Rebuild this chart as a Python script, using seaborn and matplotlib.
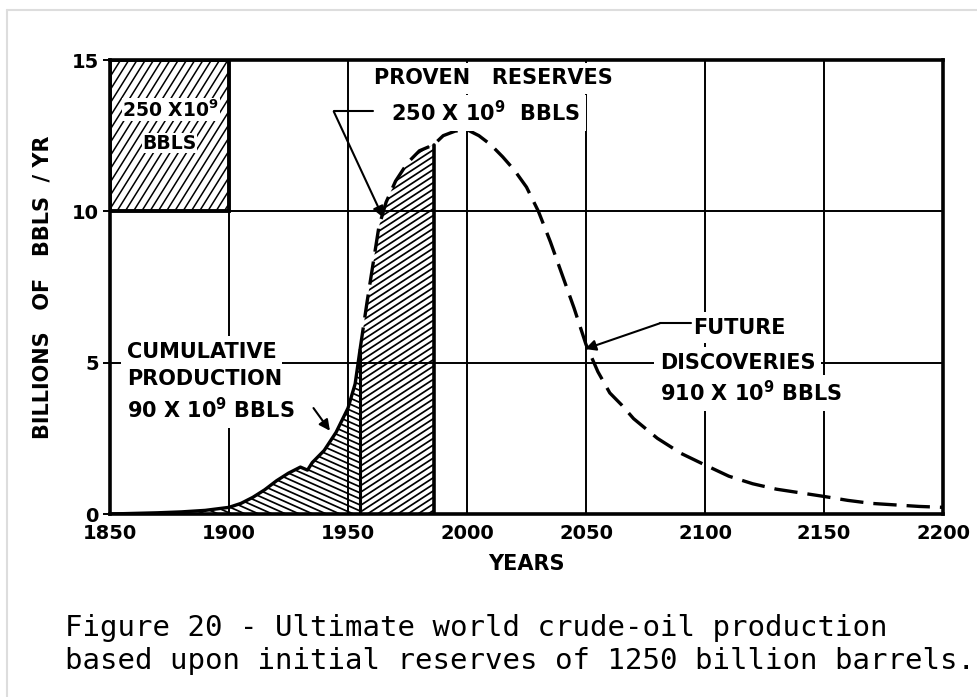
import numpy as np
import pandas as pd
import matplotlib
matplotlib.use("Agg")
import matplotlib.pyplot as plt
import matplotlib.patches as mpatches
from matplotlib.collections import LineCollection
from matplotlib.lines import Line2D
import seaborn as sns

# ---- data (billions of bbls / yr) ----
years = [1850, 1860, 1870, 1880, 1890, 1900, 1905, 1910, 1915, 1920, 1925,
         1930, 1933, 1935, 1940, 1945, 1950, 1953, 1955, 1958, 1960, 1963,
         1966, 1970, 1975, 1980, 1986, 1990, 1995, 2000, 2005, 2010, 2015,
         2020, 2025, 2030, 2035, 2040, 2045, 2050, 2055, 2060, 2065, 2070,
         2080, 2090, 2100, 2110, 2120, 2130, 2140, 2150, 2160, 2170, 2180,
         2190, 2200]
production = [0.0, 0.02, 0.04, 0.07, 0.12, 0.22, 0.35, 0.55, 0.8, 1.1, 1.35,
              1.55, 1.45, 1.7, 2.1, 2.7, 3.5, 4.3, 5.4, 7.0, 8.0, 9.5,
              10.3, 11.0, 11.6, 12.0, 12.2, 12.5, 12.65, 12.7, 12.5, 12.2, 11.8,
              11.35, 10.8, 10.0, 9.0, 7.9, 6.8, 5.6, 4.7, 4.0, 3.6, 3.15,
              2.5, 2.0, 1.62, 1.25, 1.0, 0.82, 0.7, 0.58, 0.45, 0.35, 0.3,
              0.25, 0.22]
cumulative_end = 1955   # end of cumulative production
proven_end = 1986       # end of proven reserves
legend_box = (1850, 1900, 10, 15)  # years / values of the 250 bbls square

x_ticks = [1850, 1900, 1950, 2000, 2050, 2100, 2150, 2200]
y_ticks = [0, 5, 10, 15]

df = pd.DataFrame({"year": years, "prod": production})
yr = df["year"].to_numpy()
pr = df["prod"].to_numpy()

sns.set_theme(style="white")
plt.rcParams.update({
    "font.family": ["DejaVu Sans"],
    "text.color": "black",
    "axes.labelcolor": "black",
    "xtick.color": "black",
    "ytick.color": "black",
    "mathtext.default": "bf",
})

fig = plt.figure(figsize=(9.78, 6.97), dpi=100)
ax = fig.add_axes([110 / 978, 1 - 514 / 697, 833 / 978, 454 / 697])
W_PX, H_PX = 833.0, 454.0


def hatch(ax, patch, angle, spacing, lw=1.3, z=2):
    """draw hatch lines (pixel angle/spacing) clipped to a patch"""
    t = np.tan(np.radians(angle))
    step = spacing / np.cos(np.radians(angle))
    lo = min(0, -t * W_PX) - step
    hi = H_PX + max(0, -t * W_PX) + abs(t) * W_PX + step
    segs = []
    for c in np.arange(lo, hi, step):
        segs.append([(0, c / H_PX), (1, (c + t * W_PX) / H_PX)])
    lc = LineCollection(segs, colors="black", linewidths=lw,
                        transform=ax.transAxes, zorder=z)
    ax.add_collection(lc)
    lc.set_clip_path(patch)


# cumulative production region
m1 = yr <= cumulative_end
poly1 = np.column_stack([np.r_[yr[m1], yr[m1][-1], yr[m1][0]],
                         np.r_[pr[m1], 0, 0]])
p1 = mpatches.Polygon(poly1, closed=True, facecolor="none",
                      edgecolor="none", zorder=1.5)
ax.add_patch(p1)
hatch(ax, p1, -24, 5.5, lw=1.25)

# proven reserves region
m2 = (yr >= cumulative_end) & (yr <= proven_end)
poly2 = np.column_stack([np.r_[yr[m2], yr[m2][-1], yr[m2][0]],
                         np.r_[pr[m2], 0, 0]])
p2 = mpatches.Polygon(poly2, closed=True, facecolor="none",
                      edgecolor="none", zorder=1.5)
ax.add_patch(p2)
hatch(ax, p2, 33, 5.5, lw=1.25)

# boundaries of the regions
ax.plot([cumulative_end, cumulative_end], [0, pr[yr == cumulative_end][0]],
        color="black", lw=2.2, zorder=3)
ax.plot([proven_end, proven_end], [0, pr[yr == proven_end][0]],
        color="black", lw=2.6, zorder=3)

# legend square top-left
bx0, bx1, by0, by1 = legend_box
sq = mpatches.Rectangle((bx0, by0), bx1 - bx0, by1 - by0, facecolor="white",
                        edgecolor="none", zorder=2.5)
ax.add_patch(sq)
hatch(ax, sq, 58, 7, lw=1.1, z=2.7)
ax.add_patch(mpatches.Rectangle((bx0, by0), bx1 - bx0, by1 - by0,
                                facecolor="none", edgecolor="black",
                                lw=2.8, zorder=3))

# production curve
sns.lineplot(data=df[df["year"] <= cumulative_end], x="year", y="prod",
             color="black", lw=2.4, ax=ax, zorder=4)
sns.lineplot(data=df[df["year"] >= cumulative_end], x="year", y="prod",
             color="black", lw=2.4, ax=ax, zorder=4,
             linestyle=(0, (7, 3)))

ax.set_xlim(1850, 2200)
ax.set_ylim(0, 15)
ax.set_xticks(x_ticks)
ax.set_yticks(y_ticks)
ax.grid(True, color="black", lw=1.4)
ax.set_axisbelow(True)
for s in ax.spines.values():
    s.set_color("black")
    s.set_linewidth(2.6)
    s.set_visible(True)
ax.tick_params(axis="x", length=0, pad=7, labelsize=14)
ax.tick_params(axis="y", length=5, width=1.4, color="black", pad=3,
               labelsize=14, left=True)
for lab in ax.get_xticklabels() + ax.get_yticklabels():
    lab.set_fontweight("bold")

ax.set_xlabel("YEARS", fontsize=15, fontweight="bold", labelpad=8)
ax.set_ylabel("BILLIONS   OF   BBLS  / YR", fontsize=15, fontweight="bold",
              labelpad=14)

wbox = dict(facecolor="white", edgecolor="none", pad=4)
tkw = dict(fontsize=15, fontweight="bold", zorder=6, bbox=wbox)
sup9 = r"10$^{9}$"

boxkw = dict(fontsize=13.5, fontweight="bold", zorder=6,
             bbox=dict(facecolor="white", edgecolor="none", pad=0.5))
ax.text(1875.5, 13.35, "250 X" + sup9, ha="center", va="center", **boxkw)
ax.text(1875, 12.25, "BBLS", ha="center", va="center", **boxkw)

ax.text(2011, 14.4, "PROVEN   RESERVES", ha="center", va="center", **tkw)
ax.text(2008, 13.25, "250 X " + sup9 + "  BBLS", ha="center", va="center",
        **tkw)

ax.text(1857, 5.35, "CUMULATIVE", ha="left", va="center", **tkw)
ax.text(1857, 4.45, "PRODUCTION", ha="left", va="center", **tkw)
ax.text(1857, 3.45, "90 X " + sup9 + " BBLS", ha="left", va="center", **tkw)

ax.text(2095, 6.15, "FUTURE", ha="left", va="center", **tkw)
ax.text(2081, 5.0, "DISCOVERIES", ha="left", va="center", **tkw)
ax.text(2081, 4.0, "910 X " + sup9 + " BBLS", ha="left", va="center", **tkw)

akw = dict(arrowstyle="-|>", color="black", lw=1.5, mutation_scale=16,
           shrinkA=0, shrinkB=0)
# proven reserves leader
ax.plot([1960.5, 1944], [13.3, 13.3], color="black", lw=1.5, zorder=7)
ax.annotate("", xy=(1964.7, 9.8), xytext=(1944, 13.3), arrowprops=akw,
            zorder=7)
# cumulative production
ax.annotate("", xy=(1942.4, 2.75), xytext=(1935.5, 3.5), arrowprops=akw,
            zorder=7)
# future discoveries leader
ax.plot([2094, 2081], [6.3, 6.3], color="black", lw=1.5, zorder=7)
ax.annotate("", xy=(2049.6, 5.45), xytext=(2081, 6.3), arrowprops=akw,
            zorder=7)

# caption
fig.text(65 / 978, 1 - 628 / 697,
         "Figure 20 - Ultimate world crude-oil production",
         fontsize=20.9, family="DejaVu Sans Mono", va="center", ha="left")
fig.text(65 / 978, 1 - 661 / 697,
         "based upon initial reserves of 1250 billion barrels.",
         fontsize=20.9, family="DejaVu Sans Mono", va="center", ha="left")

# light page frame
fig.add_artist(Line2D([7 / 978, 1], [1 - 10 / 697, 1 - 10 / 697],
                      color="#dddddd", lw=1.5))
fig.add_artist(Line2D([7 / 978, 7 / 978], [0, 1 - 10 / 697],
                      color="#dddddd", lw=1.5))

fig.savefig("out.png", dpi=100)
